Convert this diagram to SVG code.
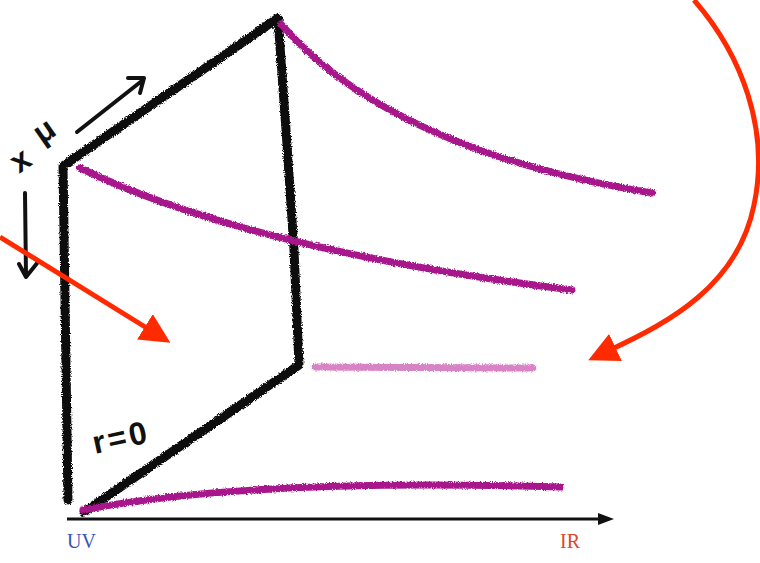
<svg xmlns="http://www.w3.org/2000/svg" width="760" height="563" viewBox="0 0 760 563">
<defs>
<filter id="crayon" x="-5%" y="-5%" width="110%" height="110%">
<feTurbulence type="fractalNoise" baseFrequency="0.9" numOctaves="2" seed="3" result="n"/>
<feDisplacementMap in="SourceGraphic" in2="n" scale="4" xChannelSelector="R" yChannelSelector="G"/>
</filter>
<marker id="redhead" viewBox="0 0 10 10" refX="2" refY="5" markerWidth="6" markerHeight="6" markerUnits="strokeWidth" orient="auto">
<path d="M0,0 L10,5 L0,10 z" fill="#ff2a00"/>
</marker>
</defs>
<style>
.box{fill:none;stroke:#111;stroke-width:9;stroke-linecap:round;stroke-linejoin:round}
.flow{fill:none;stroke:#a8168c;stroke-width:7;stroke-linecap:round}
.red{fill:none;stroke:#ff2a00;stroke-width:5}
.pen{fill:none;stroke:#111;stroke-width:4;stroke-linecap:round;stroke-linejoin:round}
.hand{font-family:"Liberation Sans",sans-serif;font-weight:bold;fill:#111}
.lab{font-family:"Liberation Serif",serif;font-size:20px}
</style>
<rect width="760" height="563" fill="#fff"/>
<g id="box" filter="url(#crayon)">
<path class="box" d="M68,500 L63,166 L278,18 L286,130 L294,250 L299,365 L84,512"/>
</g>
<g id="flows" filter="url(#crayon)">
<path class="flow" d="M281,24 Q390,150 652,193"/>
<path class="flow" d="M80,168 Q250,250 572,290"/>
<path class="flow" d="M315,367 L533,368" style="stroke:#d983c7"/>
<path class="flow" d="M83,510 Q250,478 560,487"/>
</g>
<g id="axis">
<line x1="67" y1="519" x2="600" y2="519" stroke="#111" stroke-width="3"/>
<path d="M598,513 L614,519 L598,525 z" fill="#111"/>
<text class="lab" x="67" y="548" fill="#3355bb">UV</text>
<text class="lab" x="560" y="548" fill="#e0452a">IR</text>
</g>
<g id="labels">
<path class="pen" d="M77,132 L143,80 M128,78 L144,78 L140,93"/>
<path class="pen" d="M25,193 L26,276 M19,264 L26,277 L38,262"/>
<text class="hand" font-size="32" transform="translate(19,174) rotate(-35)">x</text>
<text class="hand" font-size="32" transform="translate(42,145) rotate(-35)">μ</text>
<text class="hand" font-size="32" letter-spacing="3" transform="translate(95,454) rotate(-12)">r=0</text>
</g>
<g id="connectors">
<path class="red" d="M0,237 L150,330" marker-end="url(#redhead)"/>
<path class="red" d="M694,0 C742,55 770,130 754,205 C738,285 670,322 610,350" marker-end="url(#redhead)"/>
</g>
</svg>
